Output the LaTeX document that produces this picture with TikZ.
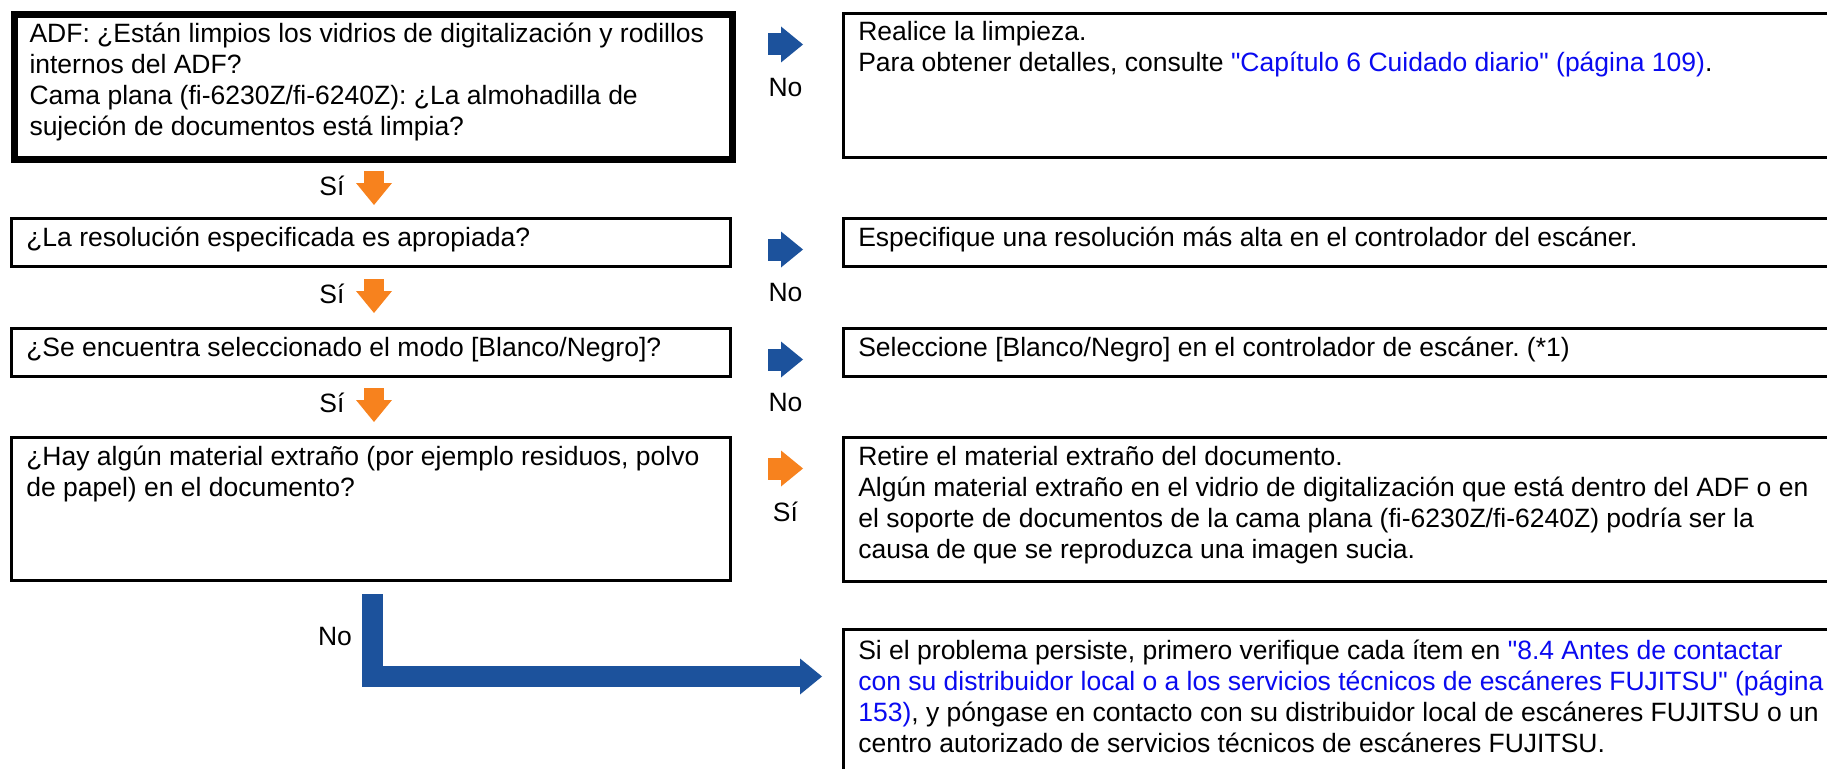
\documentclass[tikz,border=0pt]{standalone}
\usepackage{fontspec}
\setmainfont{Liberation Sans}[Ligatures=TeXOff]
\usepackage{xcolor}
\usetikzlibrary{arrows.meta,positioning}
\definecolor{arrowblue}{RGB}{28,82,156}
\definecolor{arroworange}{RGB}{247,130,30}
\definecolor{linkblue}{RGB}{10,10,240}
\newcommand{\cell}[3]{\parbox[t][#2][t]{#1}{\raggedright\frenchspacing\strut #3}}
\newcommand{\lnk}[1]{\textcolor{linkblue}{#1}}
\newcommand{\dq}{\char34{}}

\begin{document}
\begin{tikzpicture}[x=1pt, y=-1pt,
  font=\fontsize{26.5}{31}\selectfont,
  qbox/.style={draw, line width=2.6pt, anchor=north west,
    inner xsep=15pt, inner ysep=6pt},
  qmain/.style={qbox, line width=7pt},
  lbl/.style={inner sep=0pt},
  barr/.style={line width=22pt,
    -{Triangle[length=22pt, width=36pt, line width=0pt]}},
  narr/.style={barr, draw=arrowblue},
  yarr/.style={barr, draw=arroworange}]
  \useasboundingbox (0,0) rectangle (1827,768);
  \clip (0,0) rectangle (1827,768);
  % Questions
  \node[qmain] (q1) at (11,11) {\cell{688pt}{133pt}{ADF: ¿Están limpios los vidrios de digitalización y rodillos\\
    internos del ADF?\\
    Cama plana (fi-6230Z/fi-6240Z): ¿La almohadilla de\\
    sujeción de documentos está limpia?}};
  \node[qbox] (q2) at (10,217) {\cell{689pt}{36pt}{¿La resolución especificada es apropiada?}};
  \node[qbox] (q3) at (10,327) {\cell{689pt}{36pt}{¿Se encuentra seleccionado el modo [Blanco/Negro]?}};
  \node[qbox] (q4) at (10,436) {\cell{689pt}{131pt}{¿Hay algún material extraño (por ejemplo residuos, polvo\\
    de papel) en el documento?}};
  % Actions
  \node[qbox] (a1) at (842,12) {\cell{985pt}{132pt}{Realice la limpieza.\\
    Para obtener detalles, consulte \lnk{\dq Capítulo 6 Cuidado diario\dq{} (página 109)}.}};
  \node[qbox] (a2) at (842,217) {\cell{985pt}{36pt}{Especifique una resolución más alta en el controlador del escáner.}};
  \node[qbox] (a3) at (842,327) {\cell{985pt}{36pt}{Seleccione [Blanco/Negro] en el controlador de escáner. (*1)}};
  \node[qbox] (a4) at (842,436) {\cell{985pt}{132pt}{Retire el material extraño del documento.\\
    Algún material extraño en el vidrio de digitalización que está dentro del ADF o en\\
    el soporte de documentos de la cama plana (fi-6230Z/fi-6240Z) podría ser la\\
    causa de que se reproduzca una imagen sucia.}};
  \node[qbox, inner ysep=8pt] (a5) at (842,628) {\cell{985pt}{168pt}{Si el problema persiste, primero verifique cada ítem en \lnk{\dq 8.4 Antes de contactar}\\
    \lnk{con su distribuidor local o a los servicios técnicos de escáneres FUJITSU\dq{} (página}\\
    \lnk{153)}, y póngase en contacto con su distribuidor local de escáneres FUJITSU o un\\
    centro autorizado de servicios técnicos de escáneres FUJITSU.}};
  % Arrow ends
  \coordinate (n1a) at (768,44.5);  \coordinate (n1b) at (803,44.5);
  \coordinate (n2a) at (768,249.5); \coordinate (n2b) at (803,249.5);
  \coordinate (n3a) at (768,359.5); \coordinate (n3b) at (803,359.5);
  \coordinate (y4a) at (768,468.5); \coordinate (y4b) at (803,468.5);
  \coordinate (y1a) at (374,171);   \coordinate (y1b) at (374,205);
  \coordinate (y2a) at (374,279);   \coordinate (y2b) at (374,313);
  \coordinate (y3a) at (374,388);   \coordinate (y3b) at (374,422);
  \coordinate (ls) at (372.5,594);  \coordinate (le) at (822,676.5);
  % No branches
  \draw[narr] (n1a) -- (n1b);
  \draw[narr] (n2a) -- (n2b);
  \draw[narr] (n3a) -- (n3b);
  \draw[narr, line width=21pt] (ls) |- (le);
  % Yes branches
  \draw[yarr, line width=20pt] (y1a) -- (y1b);
  \draw[yarr, line width=20pt] (y2a) -- (y2b);
  \draw[yarr, line width=20pt] (y3a) -- (y3b);
  \draw[yarr] (y4a) -- (y4b);
  % Labels
  \node[lbl] (no1) at (785.5,88) {No};
  \node[lbl] (no2) at (785.5,293) {No};
  \node[lbl] (no3) at (785.5,403) {No};
  \node[lbl] (si4) at (785.5,512) {Sí};
  \node[lbl] (si1) at (332,186) {Sí};
  \node[lbl] (si2) at (332,294) {Sí};
  \node[lbl] (si3) at (332,403) {Sí};
  \node[lbl] (no4) at (335,637) {No};
\end{tikzpicture}
\end{document}
